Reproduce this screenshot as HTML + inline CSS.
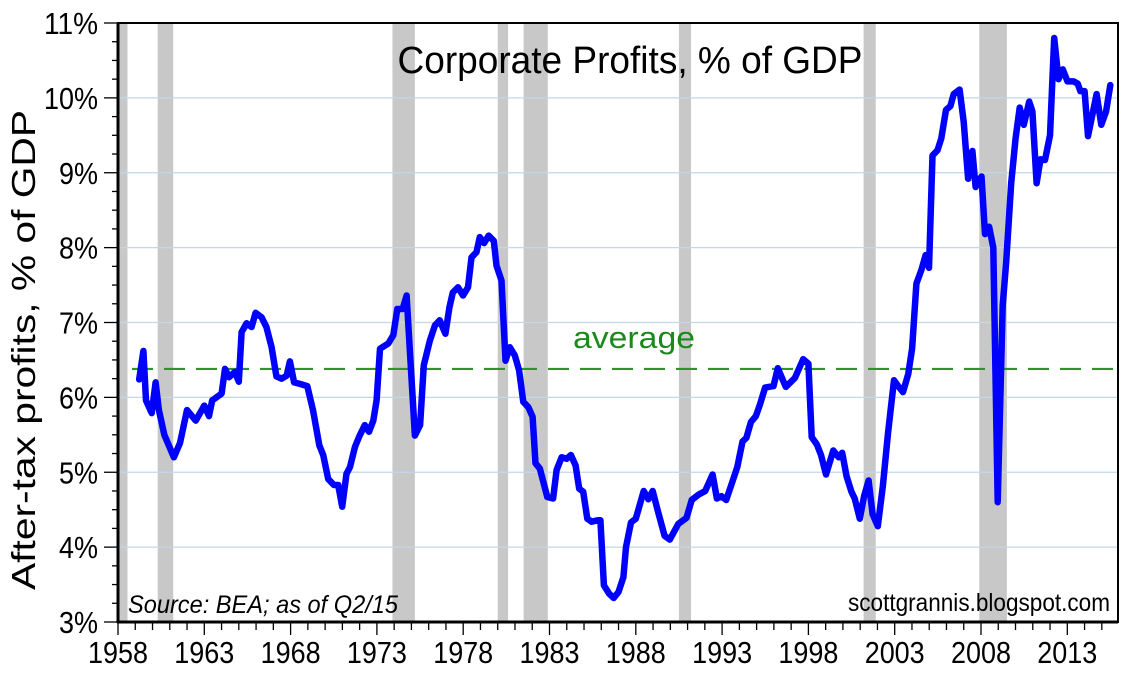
<!DOCTYPE html>
<html><head><meta charset="utf-8"><style>
html,body{margin:0;padding:0;background:#fff;}
svg{display:block;font-family:"Liberation Sans",sans-serif;}
</style></head><body>
<svg id="chart" width="1138" height="678" viewBox="0 0 1138 678" xmlns="http://www.w3.org/2000/svg">
<rect width="1138" height="678" fill="#fff"/>
<g id="recessions"></g>
<g id="grid"></g>
<g id="avg"></g>
<g id="series"></g>
<g id="axes"></g>
<text x="630" y="73" text-anchor="middle" font-size="38" textLength="465" lengthAdjust="spacingAndGlyphs" fill="#000">Corporate Profits, % of GDP</text>
<text x="573" y="348" font-size="31" textLength="122" lengthAdjust="spacingAndGlyphs" fill="#1a8a1a">average</text>
<text transform="translate(35,350) rotate(-90)" text-anchor="middle" font-size="33" textLength="480" lengthAdjust="spacingAndGlyphs" fill="#000">After-tax profits, % of GDP</text>
<text x="128" y="613" font-size="25" font-style="italic" textLength="270" lengthAdjust="spacingAndGlyphs" fill="#000">Source: BEA; as of Q2/15</text>
<text x="1110" y="611" text-anchor="end" font-size="25" textLength="262" lengthAdjust="spacingAndGlyphs" fill="#000">scottgrannis.blogspot.com</text>
</svg>
<script>
const years=[1959.23,1959.47,1959.62,1959.95,1960.18,1960.37,1960.68,1961.24,1961.59,1962.0,1962.5,1963.0,1963.27,1963.46,1964.0,1964.2,1964.43,1964.77,1965.0,1965.16,1965.45,1965.74,1965.97,1966.32,1966.6,1966.9,1967.18,1967.47,1967.77,1967.96,1968.2,1968.54,1968.97,1969.3,1969.66,1969.89,1970.18,1970.51,1970.76,1970.99,1971.24,1971.44,1971.73,1971.98,1972.3,1972.54,1972.79,1972.98,1973.18,1973.66,1973.95,1974.18,1974.49,1974.72,1975.2,1975.5,1975.72,1976.07,1976.36,1976.64,1976.97,1977.2,1977.4,1977.7,1977.99,1978.28,1978.48,1978.77,1978.96,1979.21,1979.48,1979.77,1979.93,1980.22,1980.45,1980.7,1980.99,1981.24,1981.48,1981.77,1982.02,1982.19,1982.44,1982.87,1983.21,1983.41,1983.7,1983.99,1984.24,1984.51,1984.72,1984.95,1985.19,1985.44,1985.82,1985.95,1986.15,1986.45,1986.72,1987.0,1987.28,1987.43,1987.72,1988.0,1988.46,1988.73,1988.98,1989.27,1989.67,1989.97,1990.46,1990.94,1991.24,1991.63,1992.02,1992.45,1992.7,1992.96,1993.24,1993.59,1993.88,1994.18,1994.41,1994.67,1994.96,1995.2,1995.49,1995.98,1996.23,1996.69,1997.22,1997.7,1998.0,1998.19,1998.49,1998.73,1999.02,1999.44,1999.76,1999.96,2000.21,2000.49,2000.68,2000.98,2001.23,2001.49,2001.72,2002.02,2002.31,2002.61,2002.96,2003.2,2003.48,2003.78,2004.01,2004.26,2004.56,2004.79,2004.99,2005.19,2005.48,2005.7,2005.97,2006.23,2006.42,2006.76,2007.0,2007.25,2007.5,2007.69,2008.03,2008.23,2008.47,2008.71,2008.97,2009.26,2009.46,2009.75,2010.0,2010.24,2010.48,2010.79,2010.98,2011.22,2011.45,2011.71,2012.0,2012.24,2012.49,2012.74,2013.01,2013.37,2013.6,2013.76,2014.0,2014.2,2014.7,2014.97,2015.25,2015.49];
const profits=[6.24,6.62,5.96,5.79,6.2,5.83,5.5,5.2,5.39,5.83,5.69,5.89,5.75,5.96,6.05,6.38,6.27,6.34,6.21,6.87,6.99,6.94,7.13,7.07,6.94,6.67,6.28,6.25,6.29,6.48,6.2,6.18,6.15,5.83,5.36,5.23,4.91,4.83,4.83,4.54,4.98,5.07,5.34,5.48,5.63,5.54,5.69,5.96,6.65,6.72,6.83,7.18,7.18,7.36,5.49,5.63,6.43,6.76,6.96,7.03,6.85,7.2,7.4,7.47,7.36,7.47,7.87,7.94,8.14,8.06,8.16,8.09,7.76,7.56,6.49,6.67,6.56,6.36,5.94,5.87,5.74,5.12,5.05,4.67,4.65,5.03,5.2,5.18,5.23,5.09,4.78,4.74,4.38,4.34,4.36,4.36,3.49,3.38,3.32,3.4,3.6,4.0,4.33,4.38,4.75,4.64,4.75,4.49,4.15,4.1,4.31,4.39,4.63,4.7,4.75,4.97,4.65,4.68,4.63,4.87,5.07,5.41,5.46,5.67,5.75,5.91,6.13,6.15,6.39,6.14,6.26,6.51,6.45,5.47,5.37,5.23,4.97,5.29,5.2,5.26,4.95,4.74,4.65,4.38,4.68,4.89,4.44,4.28,4.81,5.52,6.23,6.15,6.07,6.31,6.65,7.52,7.71,7.9,7.73,9.23,9.3,9.46,9.84,9.89,10.05,10.11,9.68,8.92,9.29,8.81,8.95,8.18,8.28,8.0,4.6,7.23,7.81,8.86,9.45,9.87,9.64,9.95,9.82,8.86,9.18,9.17,9.5,10.8,10.25,10.38,10.22,10.22,10.19,10.09,10.09,9.49,10.05,9.64,9.82,10.17];
const recessionStarts=[1957.6,1960.3,1973.9,1980.0,1981.5,1990.5,2001.2,2007.9];
const recessionEnds=[1958.55,1961.2,1975.2,1980.6,1982.9,1991.2,2001.9,2009.5];
const yTicks=[3,4,5,6,7,8,9,10,11];
const yTickLabels=["3%","4%","5%","6%","7%","8%","9%","10%","11%"];
const xTicks=[1958,1963,1968,1973,1978,1983,1988,1993,1998,2003,2008,2013];
const averageValue=[6.38];

const NS="http://www.w3.org/2000/svg";
const L=118,R=1118,T=23,B=622;
const X0=1958,PXY=17.26;
function xs(yr){return L+(yr-X0)*PXY;}
function ys(v){return B-(v-3)*(B-T)/8;}
function mk(tag,attrs,parent){const e=document.createElementNS(NS,tag);for(const k in attrs)e.setAttribute(k,attrs[k]);parent.appendChild(e);return e;}

const gRec=document.getElementById('recessions');
recessionStarts.forEach((s,i)=>{
  const x1=Math.max(L,xs(s)),x2=xs(recessionEnds[i]);
  const r=mk('rect',{x:x1,y:T,width:x2-x1,height:B-T,fill:'#c8c8c8'},gRec);
  
  
});

const gGrid=document.getElementById('grid');
yTicks.forEach(v=>{
  if(v===3||v===11)return;
  const l=mk('line',{x1:L,x2:R,y1:ys(v),y2:ys(v),stroke:'#c3d6ea','stroke-width':1.2},gGrid);
  
  
});

const gAvg=document.getElementById('avg');
const al=mk('line',{x1:132,x2:1116,y1:ys(averageValue[0]),y2:ys(averageValue[0]),stroke:'#2a962a','stroke-width':2.2,'stroke-dasharray':'21 11'},gAvg);



const gS=document.getElementById('series');
let d='';
years.forEach((y,i)=>{d+=(i?'L':'M')+xs(y).toFixed(1)+','+ys(profits[i]).toFixed(1);});
const p=mk('path',{d:d,fill:'none',stroke:'#0000ff','stroke-width':6.5,'stroke-linejoin':'round','stroke-linecap':'round'},gS);



const gA=document.getElementById('axes');
const fr=mk('rect',{x:L,y:T,width:R-L,height:B-T,fill:'none',stroke:'#000','stroke-width':2},gA);


mk('line',{x1:L,x2:L,y1:T,y2:B+1,stroke:'#000','stroke-width':3},gA);
mk('line',{x1:L-1,x2:R,y1:B,y2:B,stroke:'#000','stroke-width':3},gA);
for(let v=3;v<=11.001;v+=0.25){
  const major=Math.abs(v-Math.round(v))<0.01;
  mk('line',{x1:major?L-14:L-6,x2:L,y1:ys(v),y2:ys(v),stroke:'#000','stroke-width':1.3},gA);
}
yTicks.forEach((v,i)=>{
  const t=mk('text',{x:98,y:ys(v)+11,'text-anchor':'end','font-size':31,textLength:yTickLabels[i].length*15+9,lengthAdjust:'spacingAndGlyphs',fill:'#000'},gA);
  t.textContent=yTickLabels[i];
  
  
});
for(let yr=1958;yr<=2015;yr++){
  const major=(yr-1958)%5===0;
  mk('line',{x1:xs(yr),x2:xs(yr),y1:B,y2:major?B+13:B+8,stroke:'#000','stroke-width':1.3},gA);
}
xTicks.forEach(yr=>{
  const t=mk('text',{x:xs(yr),y:663,'text-anchor':'middle','font-size':31,textLength:60,lengthAdjust:'spacingAndGlyphs',fill:'#000'},gA);
  t.textContent=String(yr);
  
  
});
</script>
</body></html>
